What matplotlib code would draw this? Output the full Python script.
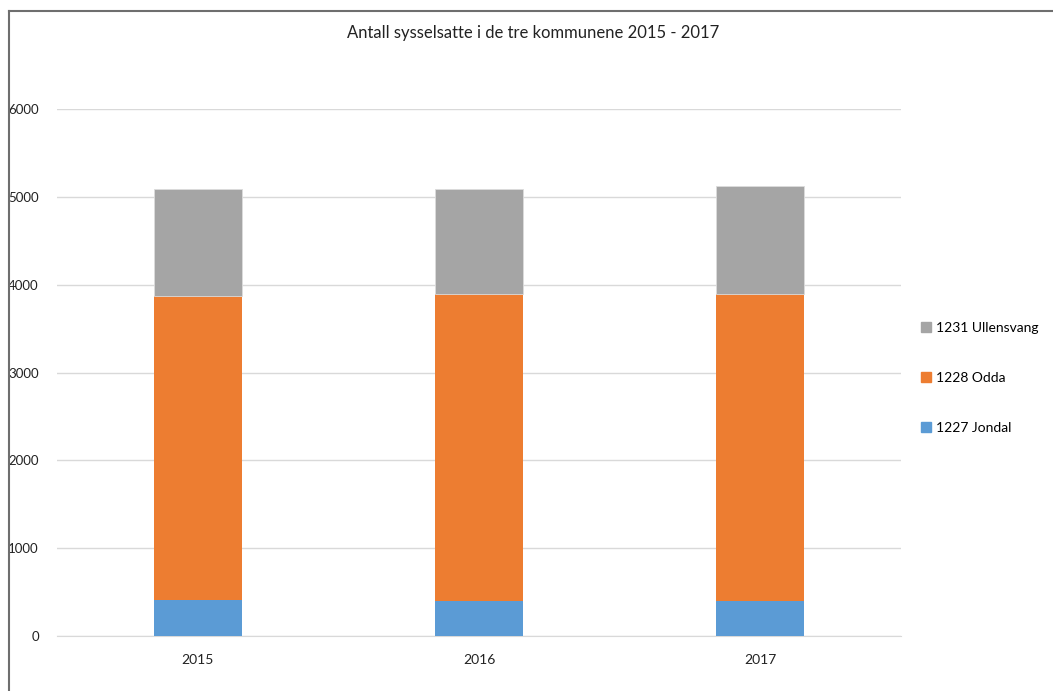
from matplotlib import pyplot as plt
from matplotlib.lines import Line2D
from matplotlib.patches import Patch

aar = ['2015', '2016', '2017']
jondal = [407, 392, 392]
odda = [3462, 3499, 3499]
ullensvang = [1226, 1204, 1231]

farger = {'1227 Jondal': '#5B9BD5', '1228 Odda': '#ED7D31', '1231 Ullensvang': '#A5A5A5'}

plt.rcParams['font.family'] = ['Lato', 'DejaVu Sans']

fig = plt.figure(figsize=(10.53, 6.91), dpi=100)
ax = fig.add_axes([57 / 1053, 1 - 635.7 / 691, 844 / 1053, 526.4 / 691])

x = range(len(aar))
bredde = 0.312
ax.bar(x, jondal, bredde, color=farger['1227 Jondal'], zorder=3)
bunn = jondal
ax.bar(x, odda, bredde, bottom=bunn, color=farger['1228 Odda'], zorder=3)
bunn = [a + b for a, b in zip(jondal, odda)]
ax.bar(x, ullensvang, bredde, bottom=bunn, color=farger['1231 Ullensvang'],
       edgecolor='#dcdcdc', linewidth=0.6, zorder=3)

ax.set_xlim(-0.5, 2.5)
ax.set_ylim(0, 6000)
ax.set_yticks(range(0, 6001, 1000))
ax.set_xticks(list(x))
ax.set_xticklabels(aar)
ax.grid(axis='y', color='#d9d9d9', linewidth=1, zorder=0)
for s in ['top', 'right', 'left']:
    ax.spines[s].set_visible(False)
ax.spines['bottom'].set_color('#d9d9d9')
ax.tick_params(axis='both', length=0, labelsize=10, colors='#222222')
ax.tick_params(axis='y', pad=13, labelsize=9.5)
ax.tick_params(axis='x', pad=13)

fig.text(533 / 1053, 1 - 33 / 691, 'Antall sysselsatte i de tre kommunene 2015 - 2017',
         ha='center', va='center', fontsize=12, color='#222222')

handles = [Patch(color=farger[k]) for k in ['1231 Ullensvang', '1228 Odda', '1227 Jondal']]
labels = ['1231 Ullensvang', '1228 Odda', '1227 Jondal']
fig.legend(handles, labels, loc='center left', bbox_to_anchor=(921 / 1053, 1 - 378 / 691),
           frameon=False, fontsize=10, handlelength=0.75, handleheight=0.75,
           handletextpad=0.3, labelspacing=2.75, borderpad=0, borderaxespad=0)

# ramme oppe og til venstre
fig.add_artist(Line2D([9 / 1053, 1], [1 - 11 / 691, 1 - 11 / 691],
                      transform=fig.transFigure, color='#6e6e6e', linewidth=1.5))
fig.add_artist(Line2D([9 / 1053, 9 / 1053], [0, 1 - 11 / 691],
                      transform=fig.transFigure, color='#6e6e6e', linewidth=1.5))

fig.savefig('out.png', dpi=100)
